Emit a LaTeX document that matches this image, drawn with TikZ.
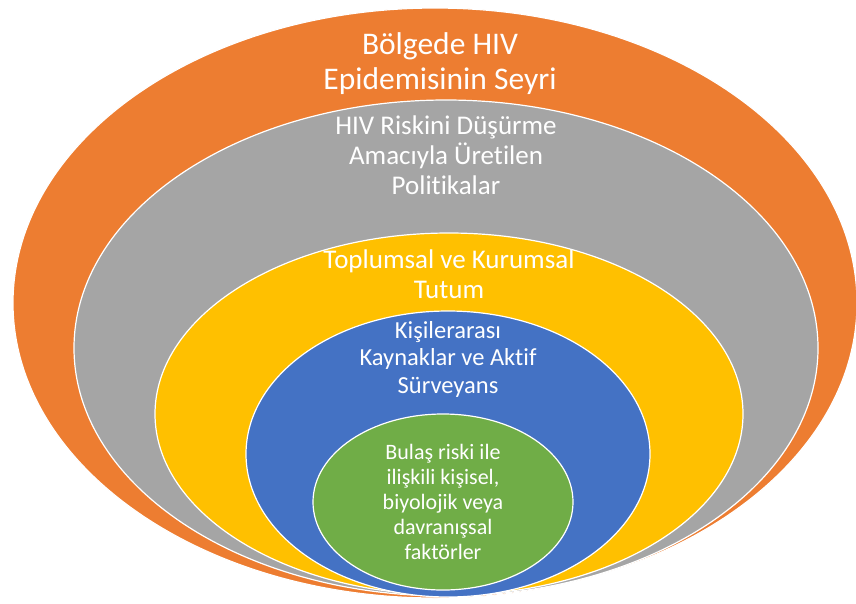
\documentclass[tikz,border=0pt]{standalone}
\usepackage{fontspec}
\setmainfont{Carlito}[Ligatures={NoCommon,NoRare}]
\usepackage{tikz}
\usepackage{xcolor}
\definecolor{ringorange}{HTML}{ED7D31}
\definecolor{ringgray}{HTML}{A5A5A5}
\definecolor{ringyellow}{HTML}{FFC000}
\definecolor{ringblue}{HTML}{4472C4}
\definecolor{ringgreen}{HTML}{70AD47}

\begin{document}
\begin{tikzpicture}[x=1pt,y=-1pt,
        ring/.style={draw=white,line width=1.2pt},
        ringtext/.style={text=white,align=center,inner sep=0pt}]
        \useasboundingbox (0,0) rectangle (856,603);
        \filldraw[ring,fill=ringorange] (435,303) ellipse [x radius=422pt,y radius=295pt];
        \filldraw[ring,fill=ringgray] (446,348) ellipse [x radius=372pt,y radius=248pt];
        \filldraw[ring,fill=ringyellow] (449,414) ellipse [x radius=294pt,y radius=181pt];
        \filldraw[ring,fill=ringblue] (448,454) ellipse [x radius=202pt,y radius=143pt];
        \filldraw[ring,fill=ringgreen] (443,502) ellipse [x radius=130pt,y radius=88pt];
        \node[ringtext,font=\fontsize{31.5}{35}\selectfont] (epidemi) at (440,64) {Bölgede HIV\\Epidemisinin Seyri};
        \node[ringtext,font=\fontsize{27}{30}\selectfont] (politika) at (446,155) {HIV Riskini Düşürme\\Amacıyla Üretilen\\Politikalar};
        \node[ringtext,font=\fontsize{27}{30}\selectfont] (tutum) at (449,274) {Toplumsal ve Kurumsal\\Tutum};
        \node[ringtext,font=\fontsize{24.5}{27.5}\selectfont] (kaynak) at (448,359) {Kişilerarası\\Kaynaklar ve Aktif\\Sürveyans};
        \node[ringtext,font=\fontsize{22}{25}\selectfont] (faktor) at (443,502) {Bulaş riski ile\\ilişkili kişisel,\\biyolojik veya\\davranışsal\\faktörler};
\end{tikzpicture}
\end{document}
